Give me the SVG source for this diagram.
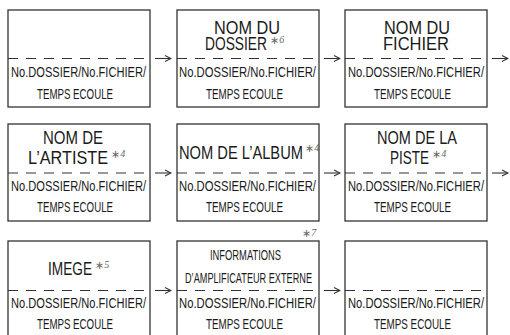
<svg xmlns="http://www.w3.org/2000/svg" width="510" height="335" viewBox="0 0 510 335">
<defs>
<style>
.box{fill:#fff;stroke:#333;stroke-width:1.3}
.dash{stroke:#333;stroke-width:1.2;stroke-dasharray:10 8;fill:none}
.con{stroke:#333;stroke-width:1.1;fill:none}
.lo{font-family:"Liberation Sans",Arial,sans-serif;font-size:15px;fill:#1a1a1a}
.up{font-family:"Liberation Sans",Arial,sans-serif;font-size:18px;fill:#1a1a1a}
.sm{font-family:"Liberation Sans",Arial,sans-serif;font-size:14px;fill:#1a1a1a}
.st{font-family:"DejaVu Sans",sans-serif;font-size:11px;fill:#666}
.sd{font-family:"Liberation Serif",serif;font-size:10px;font-style:italic;fill:#666}
</style>
<marker id="ah" markerWidth="8" markerHeight="8" refX="7" refY="4" orient="auto" markerUnits="userSpaceOnUse">
<path d="M1,1 L7,4 L1,7" fill="none" stroke="#333" stroke-width="1.1"/>
</marker>
</defs>
<rect width="510" height="335" fill="#fff"/>

<g id="connectors">
<line class="con" x1="155" y1="58.5" x2="171" y2="58.5" marker-end="url(#ah)"/>
<line class="con" x1="324" y1="58.5" x2="340" y2="58.5" marker-end="url(#ah)"/>
<line class="con" x1="492" y1="58.5" x2="508" y2="58.5" marker-end="url(#ah)"/>
<line class="con" x1="155" y1="173" x2="171" y2="173" marker-end="url(#ah)"/>
<line class="con" x1="324" y1="173" x2="340" y2="173" marker-end="url(#ah)"/>
<line class="con" x1="492" y1="173" x2="508" y2="173" marker-end="url(#ah)"/>
<line class="con" x1="155" y1="290.5" x2="171" y2="290.5" marker-end="url(#ah)"/>
<line class="con" x1="324" y1="290.5" x2="340" y2="290.5" marker-end="url(#ah)"/>
</g>

<g id="n1">
<rect class="box" x="8" y="10" width="142" height="97"/>
<line class="dash" x1="8" y1="58.5" x2="150" y2="58.5"/>
<text class="lo" x="11" y="77" textLength="135" lengthAdjust="spacingAndGlyphs">No.DOSSIER/No.FICHIER/</text>
<text class="lo" x="37" y="99" textLength="76" lengthAdjust="spacingAndGlyphs">TEMPS ECOULE</text>
</g>

<g id="n2">
<rect class="box" x="177" y="10" width="142" height="97"/>
<line class="dash" x1="177" y1="58.5" x2="319" y2="58.5"/>
<text class="up" x="214" y="33.5" textLength="66" lengthAdjust="spacingAndGlyphs">NOM DU</text>
<text class="up" x="205" y="50" textLength="62" lengthAdjust="spacingAndGlyphs">DOSSIER</text>
<text class="st" x="270" y="44">∗<tspan class="sd" dy="-1">6</tspan></text>
<text class="lo" x="179" y="77" textLength="137" lengthAdjust="spacingAndGlyphs">No.DOSSIER/No.FICHIER/</text>
<text class="lo" x="206" y="99" textLength="77" lengthAdjust="spacingAndGlyphs">TEMPS ECOULE</text>
</g>

<g id="n3">
<rect class="box" x="345" y="10" width="142" height="97"/>
<line class="dash" x1="345" y1="58.5" x2="487" y2="58.5"/>
<text class="up" x="384" y="33.5" textLength="66" lengthAdjust="spacingAndGlyphs">NOM DU</text>
<text class="up" x="383" y="50" textLength="66" lengthAdjust="spacingAndGlyphs">FICHIER</text>
<text class="lo" x="348" y="77" textLength="136" lengthAdjust="spacingAndGlyphs">No.DOSSIER/No.FICHIER/</text>
<text class="lo" x="374" y="99" textLength="77" lengthAdjust="spacingAndGlyphs">TEMPS ECOULE</text>
</g>

<g id="n4">
<rect class="box" x="8" y="124" width="142" height="97"/>
<line class="dash" x1="8" y1="173" x2="150" y2="173"/>
<text class="up" x="43" y="143.5" textLength="60" lengthAdjust="spacingAndGlyphs">NOM DE</text>
<text class="up" x="28" y="164" textLength="80" lengthAdjust="spacingAndGlyphs">L’ARTISTE</text>
<text class="st" x="111" y="158">∗<tspan class="sd" dy="-1">4</tspan></text>
<text class="lo" x="11" y="190.5" textLength="135" lengthAdjust="spacingAndGlyphs">No.DOSSIER/No.FICHIER/</text>
<text class="lo" x="37" y="212" textLength="76" lengthAdjust="spacingAndGlyphs">TEMPS ECOULE</text>
</g>

<g id="n5">
<rect class="box" x="177" y="124" width="142" height="97"/>
<line class="dash" x1="177" y1="173" x2="319" y2="173"/>
<text class="up" x="179" y="158.5" textLength="124" lengthAdjust="spacingAndGlyphs">NOM DE L’ALBUM</text>
<text class="st" x="305" y="152">∗<tspan class="sd" dy="-1">4</tspan></text>
<text class="lo" x="179" y="190.5" textLength="137" lengthAdjust="spacingAndGlyphs">No.DOSSIER/No.FICHIER/</text>
<text class="lo" x="206" y="212" textLength="77" lengthAdjust="spacingAndGlyphs">TEMPS ECOULE</text>
</g>

<g id="n6">
<rect class="box" x="345" y="124" width="142" height="97"/>
<line class="dash" x1="345" y1="173" x2="487" y2="173"/>
<text class="up" x="377" y="143.5" textLength="80" lengthAdjust="spacingAndGlyphs">NOM DE LA</text>
<text class="up" x="390" y="164" textLength="39" lengthAdjust="spacingAndGlyphs">PISTE</text>
<text class="st" x="432" y="158">∗<tspan class="sd" dy="-1">4</tspan></text>
<text class="lo" x="348" y="190.5" textLength="136" lengthAdjust="spacingAndGlyphs">No.DOSSIER/No.FICHIER/</text>
<text class="lo" x="374" y="212" textLength="77" lengthAdjust="spacingAndGlyphs">TEMPS ECOULE</text>
</g>

<g id="n7">
<rect class="box" x="8" y="241" width="142" height="100"/>
<line class="dash" x1="8" y1="290.5" x2="150" y2="290.5"/>
<text class="up" x="48" y="275" textLength="44" lengthAdjust="spacingAndGlyphs">IMEGE</text>
<text class="st" x="95" y="269">∗<tspan class="sd" dy="-1">5</tspan></text>
<text class="lo" x="11" y="307.5" textLength="135" lengthAdjust="spacingAndGlyphs">No.DOSSIER/No.FICHIER/</text>
<text class="lo" x="37" y="329" textLength="76" lengthAdjust="spacingAndGlyphs">TEMPS ECOULE</text>
</g>

<g id="n8">
<rect class="box" x="177" y="241" width="142" height="100"/>
<line class="dash" x1="177" y1="290.5" x2="319" y2="290.5"/>
<text class="st" x="302" y="237">∗<tspan class="sd" dy="-1">7</tspan></text>
<text class="sm" x="210" y="260" textLength="71" lengthAdjust="spacingAndGlyphs">INFORMATIONS</text>
<text class="lo" x="185" y="283" textLength="127" lengthAdjust="spacingAndGlyphs">D’AMPLIFICATEUR EXTERNE</text>
<text class="lo" x="179" y="307.5" textLength="137" lengthAdjust="spacingAndGlyphs">No.DOSSIER/No.FICHIER/</text>
<text class="lo" x="206" y="329" textLength="77" lengthAdjust="spacingAndGlyphs">TEMPS ECOULE</text>
</g>

<g id="n9">
<rect class="box" x="345" y="241" width="142" height="100"/>
<line class="dash" x1="345" y1="290.5" x2="487" y2="290.5"/>
<text class="lo" x="348" y="307.5" textLength="136" lengthAdjust="spacingAndGlyphs">No.DOSSIER/No.FICHIER/</text>
<text class="lo" x="374" y="329" textLength="77" lengthAdjust="spacingAndGlyphs">TEMPS ECOULE</text>
</g>
</svg>
